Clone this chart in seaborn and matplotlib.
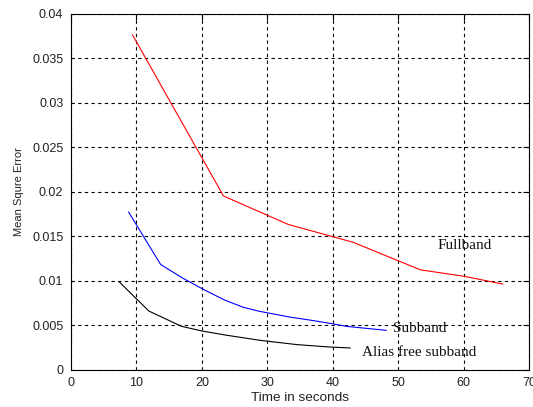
import numpy as np
import pandas as pd
import matplotlib
matplotlib.use("Agg")
import matplotlib.pyplot as plt
import seaborn as sns

# Mean square error against elapsed time for the three adaptive filter structures
full_t = [9.4, 23.3, 33.2, 43.1, 53.4, 60.2, 66.0]
full_mse = [0.0376, 0.0195, 0.0163, 0.0143, 0.0112, 0.01046, 0.0096]

sub_t = [8.8, 13.7, 17.0, 20.5, 23.5, 26.3, 28.8, 33.4, 37.0, 39.8, 42.1, 48.2]
sub_mse = [0.0177, 0.0118, 0.0103, 0.0089, 0.0078, 0.0070, 0.00654, 0.0059, 0.0055, 0.00516, 0.00485, 0.0044]

alias_t = [7.3, 11.9, 16.9, 20.0, 23.8, 28.9, 34.5, 39.5, 42.7]
alias_mse = [0.0099, 0.00657, 0.00485, 0.00433, 0.00385, 0.00328, 0.0028, 0.00253, 0.00242]

series_names = ["Fullband", "Subband", "Alias free subband"]
series_colors = ["#ff0000", "#0000ff", "#000000"]

x_ticks = [0, 10, 20, 30, 40, 50, 60, 70]
y_ticks = [0, 0.005, 0.01, 0.015, 0.02, 0.025, 0.03, 0.035, 0.04]
y_tick_labels = ["0", "0.005", "0.01", "0.015", "0.02", "0.025", "0.03", "0.035", "0.04"]

frames = []
for name, t, m in zip(series_names, [full_t, sub_t, alias_t], [full_mse, sub_mse, alias_mse]):
    frames.append(pd.DataFrame({"time": t, "mse": m, "method": name}))
df = pd.concat(frames, ignore_index=True)

sns.set_style("white")
plt.rcParams["font.family"] = ["Liberation Sans", "DejaVu Sans"]

fig = plt.figure(figsize=(5.33, 4.07), dpi=100)
ax = fig.add_axes([0.1332, 0.0921, 0.8593, 0.8747])

sns.lineplot(data=df, x="time", y="mse", hue="method", palette=dict(zip(series_names, series_colors)),
             estimator=None, sort=False, linewidth=0.8, legend=False, ax=ax)

ax.set_xlim(0, 70)
ax.set_ylim(0, 0.04)
ax.set_xticks(x_ticks)
ax.set_xticklabels([str(v) for v in x_ticks])
ax.set_yticks(y_ticks)
ax.set_yticklabels(y_tick_labels)

ax.grid(True, color="black", linestyle=(0, (3, 3)), linewidth=0.8)
for s in ax.spines.values():
    s.set_visible(True)
    s.set_color("black")
    s.set_linewidth(0.8)

ax.tick_params(direction="in", length=4, width=0.8, colors="black", labelsize=9,
               pad=5.5, top=True, right=True, labelcolor="#222222")

ax.set_xlabel("Time in seconds", fontsize=9.7, color="#222222", labelpad=2)
ax.set_ylabel("Mean Squre Error", fontsize=8, color="#222222", labelpad=6)

serif = ["Liberation Serif", "DejaVu Serif"]
ax.text(60.2, 0.0139, "Fullband", family=serif, fontsize=11, ha="center", va="center", color="#111111")
ax.text(49.2, 0.0046, "Subband", family=serif, fontsize=11, ha="left", va="center", color="#111111")
ax.text(44.4, 0.0019, "Alias free subband", family=serif, fontsize=11, ha="left", va="center", color="#111111")

fig.savefig("out.png", dpi=100)
